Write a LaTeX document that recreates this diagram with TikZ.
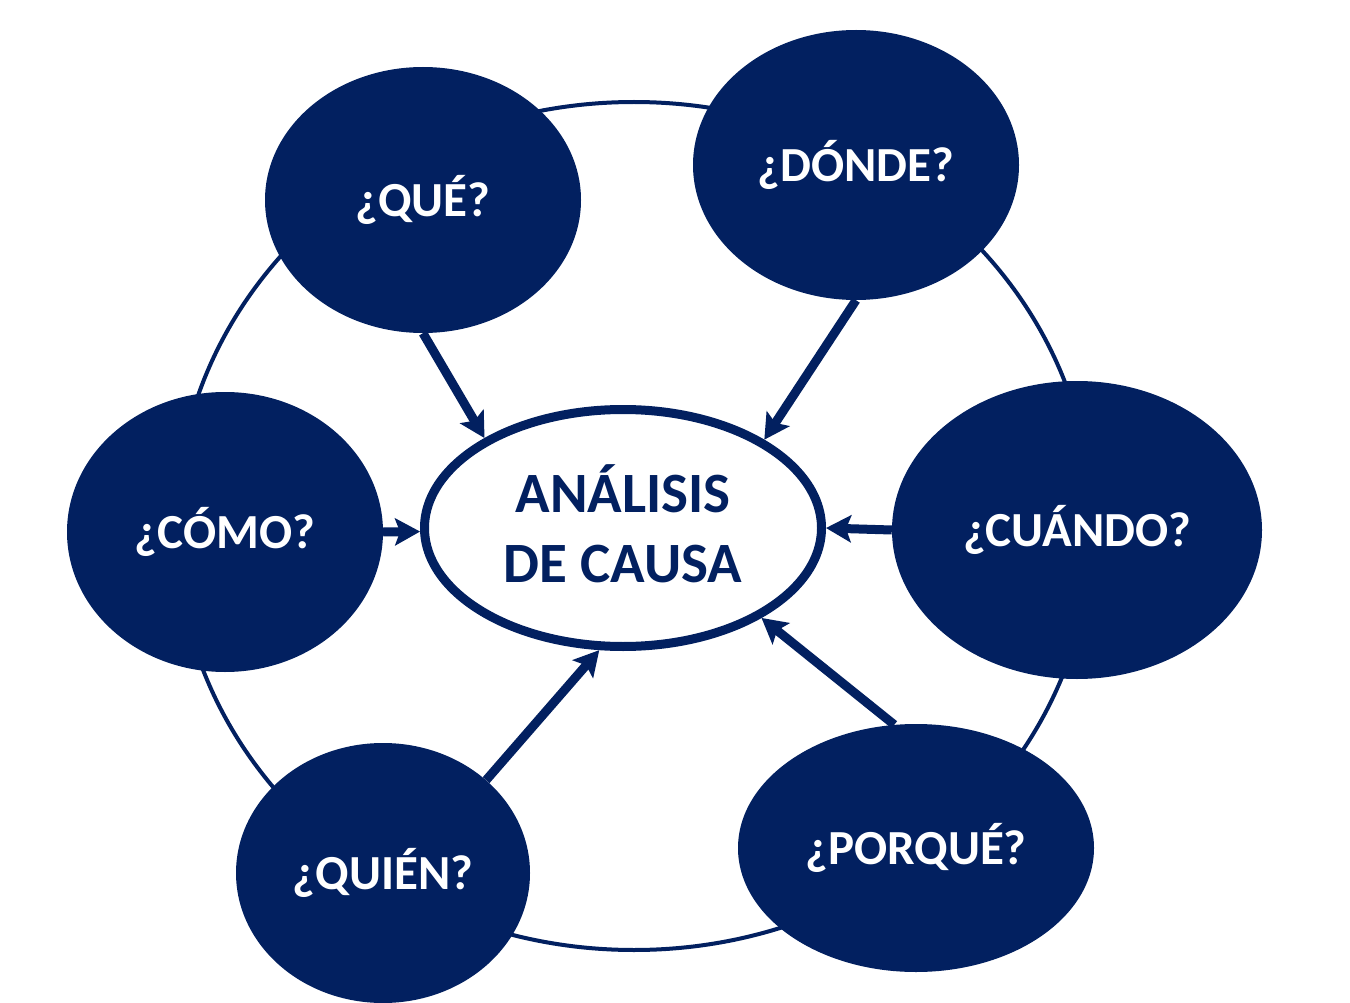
\documentclass[tikz,border=0pt]{standalone}
\usepackage{fontspec}
\setmainfont{Carlito}
\usetikzlibrary{shapes.geometric,arrows.meta}
\definecolor{navy}{RGB}{2,32,96}
\tikzset{
  q/.style={ellipse, fill=navy, text=white, inner sep=0pt,
    font=\bfseries\fontsize{49}{55}\selectfont},
  centro/.style={ellipse, draw=navy, line width=9pt, fill=white, text=navy,
    inner sep=0pt, align=center, minimum width=397pt, minimum height=237pt,
    font=\bfseries\fontsize{57}{70}\selectfont},
  ring/.style={draw=navy, line width=4pt},
  flecha/.style={draw=navy, line width=9pt,
    -{Stealth[length=25pt,width=27pt,inset=5pt]}}
}
\begin{document}
\begin{tikzpicture}[x=1pt,y=-1pt]
\useasboundingbox[fill=white] (0,0) rectangle (1350,1003);
\draw[ring] (634,526) ellipse [x radius=458, y radius=424];
\node[centro] (c) at (623,528) {};
\node[text=navy, align=center, font=\bfseries\fontsize{57}{70}\selectfont] (ct) at (623,524) {ANÁLISIS\\DE CAUSA};
\node[q, minimum width=316pt, minimum height=266pt] (que) at (423,200) {¿QUÉ?};
\node[q, minimum width=326pt, minimum height=270pt] (donde) at (856,165) {¿DÓNDE?};
\node[q, minimum width=316pt, minimum height=280pt] (como) at (225,532) {¿CÓMO?};
\node[q, minimum width=370pt, minimum height=298pt] (cuando) at (1077,530) {¿CUÁNDO?};
\node[q, minimum width=294pt, minimum height=260pt] (quien) at (383,873) {¿QUIÉN?};
\node[q, minimum width=356pt, minimum height=248pt] (porque) at (916,848) {¿PORQUÉ?};
\draw[flecha] (que.-90) -- (c.147);
\draw[flecha] (donde.-90) -- (c.32);
\draw[flecha] (como.0) -- (c.181);
\draw[flecha] (cuando.180) -- (c.0);
\draw[flecha] (quien.42) -- (c.-101);
\draw[flecha] (porque.100) -- (c.-33);
\end{tikzpicture}
\end{document}
